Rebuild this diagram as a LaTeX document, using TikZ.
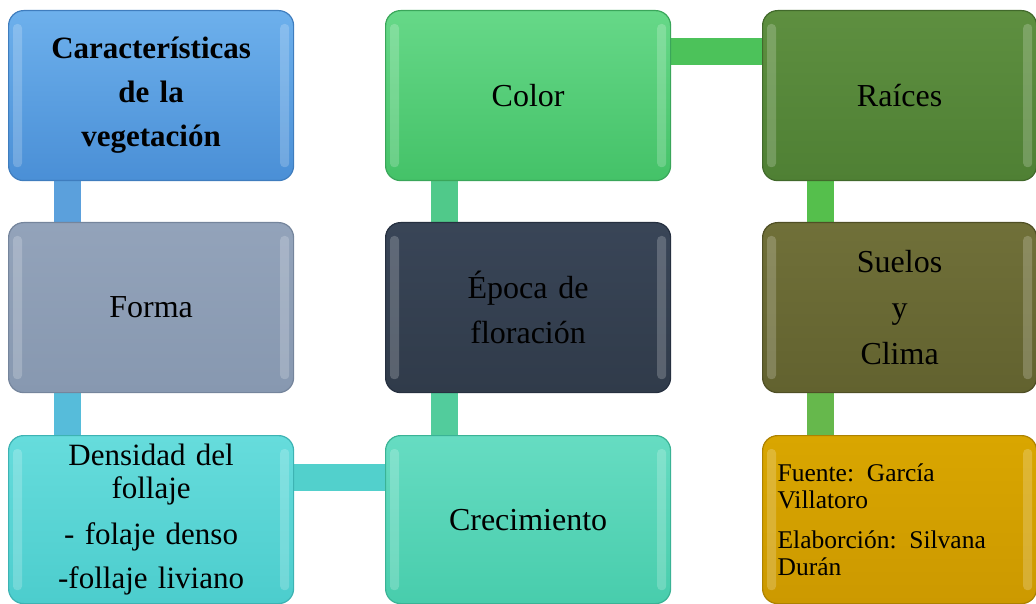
\documentclass[tikz,border=0pt]{standalone}
\usepackage{fontspec}
\setmainfont{Liberation Serif}
\usetikzlibrary{backgrounds}
\definecolor{carT}{HTML}{6DB0EC}\definecolor{carB}{HTML}{4A8FD6}\definecolor{carD}{HTML}{3F7DBE}
\definecolor{forT}{HTML}{93A3BA}\definecolor{forB}{HTML}{8798B0}\definecolor{forD}{HTML}{75859C}
\definecolor{denT}{HTML}{66DCDC}\definecolor{denB}{HTML}{4CCDCD}\definecolor{denD}{HTML}{3DB3B3}
\definecolor{colT}{HTML}{66D888}\definecolor{colB}{HTML}{44C268}\definecolor{colD}{HTML}{3AA65A}
\definecolor{epoT}{HTML}{394557}\definecolor{epoB}{HTML}{303B4A}\definecolor{epoD}{HTML}{263040}
\definecolor{creT}{HTML}{66DCC2}\definecolor{creB}{HTML}{48CDAC}\definecolor{creD}{HTML}{3AB395}
\definecolor{raiT}{HTML}{5E8F40}\definecolor{raiB}{HTML}{4F8034}\definecolor{raiD}{HTML}{41692B}
\definecolor{sueT}{HTML}{707039}\definecolor{sueB}{HTML}{62622F}\definecolor{sueD}{HTML}{4F4F25}
\definecolor{fueT}{HTML}{D9A600}\definecolor{fueB}{HTML}{CC9900}\definecolor{fueD}{HTML}{AD8200}
\definecolor{c1}{HTML}{5BA0DC}\definecolor{c2}{HTML}{56BCDA}\definecolor{c3}{HTML}{52D0CC}
\definecolor{c4}{HTML}{50C98A}\definecolor{c5}{HTML}{52CC9C}\definecolor{c6}{HTML}{4CC25A}
\definecolor{c7}{HTML}{55BF4C}\definecolor{c8}{HTML}{66B84C}
\tikzset{
  box/.style={draw, line width=1.2pt, rounded corners=15pt, minimum height=170pt,
    inner xsep=15pt, inner ysep=2pt, align=center, anchor=north west,
    font=\fontsize{32}{44}\selectfont},
  wide/.style={text width=255pt},
  narrow/.style={text width=244pt},
  conn/.style={line width=27pt},
  hl/.style={white, opacity=0.2, rounded corners=4pt},
}
\begin{document}
\begin{tikzpicture}[x=1pt,y=-1pt]
\useasboundingbox (0,0) rectangle (1036,604);
% column 1
\node[box,wide,top color=carT,bottom color=carB,draw=carD,
  font=\bfseries\fontsize{31}{44}\selectfont] (car) at (8,10) {Características\\de la\\vegetación};
\node[box,wide,top color=forT,bottom color=forB,draw=forD] (forma) at (8,222) {Forma};
\node[box,wide,top color=denT,bottom color=denB,draw=denD,minimum height=168pt,
  font=\fontsize{31}{33}\selectfont] (dens) at (8,435)
  {Densidad del\\follaje\\[13pt]- folaje denso\\[11pt]-follaje liviano};
% column 2
\node[box,wide,top color=colT,bottom color=colB,draw=colD] (color) at (385,10) {Color};
\node[box,wide,top color=epoT,bottom color=epoB,draw=epoD,
  font=\fontsize{32}{45}\selectfont] (epoca) at (385,222) {Época de\\floración};
\node[box,wide,top color=creT,bottom color=creB,draw=creD,minimum height=168pt] (crec) at (385,435) {Crecimiento};
% column 3
\node[box,narrow,top color=raiT,bottom color=raiB,draw=raiD] (raices) at (762,10) {Raíces};
\node[box,narrow,top color=sueT,bottom color=sueB,draw=sueD,
  font=\fontsize{32}{46}\selectfont] (suelos) at (762,222) {Suelos\\y\\Clima};
\node[box,narrow,top color=fueT,bottom color=fueB,draw=fueD,minimum height=168pt,align=left,
  font=\fontsize{25.5}{27}\selectfont] (fuente) at (762,435)
  {Fuente: García\\Villatoro\\[13pt]Elaborción: Silvana\\Durán};
% bevel highlights
\foreach \n in {car,forma,dens,color,epoca,crec,raices,suelos,fuente}{
  \fill[hl] ([xshift=5pt,yshift=-14pt]\n.north west) rectangle ([xshift=14pt,yshift=14pt]\n.south west);
  \fill[hl] ([xshift=-14pt,yshift=-14pt]\n.north east) rectangle ([xshift=-5pt,yshift=14pt]\n.south east);
}
% connectors
\begin{scope}[on background layer]
\draw[conn,c1] ([xshift=59pt]car.south west) -- ([xshift=59pt]forma.north west);
\draw[conn,c2] ([xshift=59pt]forma.south west) -- ([xshift=59pt]dens.north west);
\draw[conn,c3] ([yshift=-42pt]dens.north east) -- ([yshift=-42pt]crec.north west);
\draw[conn,c4] ([xshift=59pt]color.south west) -- ([xshift=59pt]epoca.north west);
\draw[conn,c5] ([xshift=59pt]epoca.south west) -- ([xshift=59pt]crec.north west);
\draw[conn,c6] ([yshift=-42pt]color.north east) -- ([yshift=-42pt]raices.north west);
\draw[conn,c7] ([xshift=58pt]raices.south west) -- ([xshift=58pt]suelos.north west);
\draw[conn,c8] ([xshift=58pt]suelos.south west) -- ([xshift=58pt]fuente.north west);
\end{scope}
\end{tikzpicture}
\end{document}
